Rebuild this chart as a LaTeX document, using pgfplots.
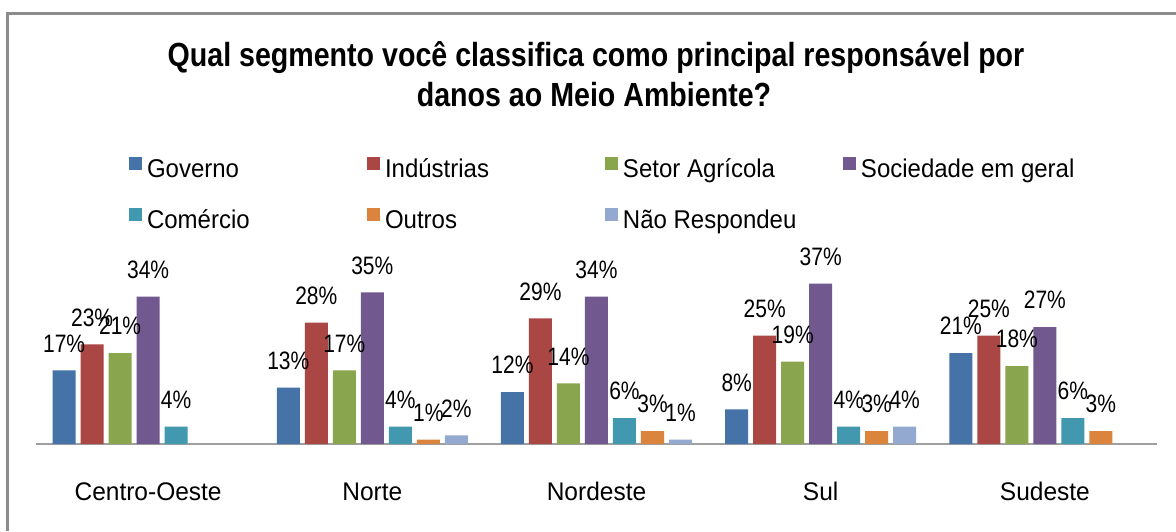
\documentclass[border=0pt]{standalone}
\usepackage{pgfplots}
\pgfplotsset{compat=1.18}
\usepackage{fontspec}
\setmainfont{Liberation Sans}
\usepackage{graphicx}
\definecolor{cGov}{HTML}{4572A7}
\definecolor{cInd}{HTML}{AA4643}
\definecolor{cAgr}{HTML}{89A54E}
\definecolor{cSoc}{HTML}{71588F}
\definecolor{cCom}{HTML}{4198AF}
\definecolor{cOut}{HTML}{DB843D}
\definecolor{cNR}{HTML}{93A9CF}
\definecolor{frame}{HTML}{8C8C8C}
\newcommand\lbl[1]{\scalebox{1}[1.2]{\fontsize{21}{22}\selectfont #1}}
\newcommand\lgd[1]{\scalebox{1}[1.07]{\fontsize{24}{26}\selectfont #1}}
\newcommand\cat[1]{\scalebox{1}[1.04]{\fontsize{24.5}{26}\selectfont #1}}
\newcommand\ttl[1]{\scalebox{1}[1.17]{\fontsize{28.6}{30}\selectfont\bfseries #1}}
\begin{document}
\begin{tikzpicture}
\path[use as bounding box] (0pt,0pt) rectangle (1176pt,531pt);
\fill[white] (0pt,0pt) rectangle (1176pt,531pt);
\draw[frame, line width=3pt] (7.5pt,0pt) -- (7.5pt,517.5pt) -- (1176pt,517.5pt);
\node[anchor=base] at (596pt,464pt) {\ttl{Qual segmento você classifica como principal responsável por}};
\node[anchor=base] at (594pt,424pt) {\ttl{danos ao Meio Ambiente?}};
\begin{axis}[
  at={(36pt,87pt)}, anchor=south west,
  scale only axis, width=1121pt, height=182pt,
  xmin=-0.5, xmax=4.5, ymin=0, ymax=42,
  clip=false,
  ybar=5pt, bar width=23pt,
  axis y line=none,
  axis x line=bottom,
  x axis line style={-, draw=gray!75, line width=1.5pt},
  xtick={0,1,2,3,4},
  xticklabels={\cat{Centro-Oeste},\cat{Norte},\cat{Nordeste},\cat{Sul},\cat{Sudeste}},
  major tick length=0pt,
  xticklabel style={anchor=base, yshift=-56pt, inner sep=0pt},
  typeset ticklabels with strut=false,
  /pgf/number format/assume math mode=true,
  nodes near coords={\lbl{\pgfmathprintnumber{\pgfplotspointmeta}\%}},
  nodes near coords style={anchor=south, yshift=18pt, inner sep=0pt, text depth=0pt},
  legend image code/.code={\fill[#1] (0pt,0.5pt) rectangle (13pt,13.5pt);},
  legend columns=4,
  legend cell align=left,
  legend style={at={(0.08296,1.5769)}, anchor=north west, draw=none, fill=none,
    inner sep=0pt, outer sep=0pt, row sep=24pt,
    nodes={inner sep=0pt, outer sep=0pt, text height=20pt, text depth=6pt},
    /tikz/every odd column/.append style={column sep=5pt},
    /tikz/every even column/.append style={column sep=0pt}},
  every axis plot/.append style={draw=none},
]
\addplot[fill=cGov] coordinates {(0,17) (1,13) (2,12) (3,8) (4,21)};
\addplot[fill=cInd] coordinates {(0,23) (1,28) (2,29) (3,25) (4,25)};
\addplot[fill=cAgr] coordinates {(0,21) (1,17) (2,14) (3,19) (4,18)};
\addplot[fill=cSoc] coordinates {(0,34) (1,35) (2,34) (3,37) (4,27)};
\addplot[fill=cCom] coordinates {(0,4) (1,4) (2,6) (3,4) (4,6)};
\addplot[fill=cOut] coordinates {(1,1) (2,3) (3,3) (4,3)};
\addplot[fill=cNR] coordinates {(1,2) (2,1) (3,4)};
\addlegendentry{\makebox[220pt][l]{\lgd{Governo}}}
\addlegendentry{\makebox[220pt][l]{\lgd{Indústrias}}}
\addlegendentry{\makebox[220pt][l]{\lgd{Setor Agrícola}}}
\addlegendentry{\makebox[220pt][l]{\lgd{Sociedade em geral}}}
\addlegendentry{\makebox[220pt][l]{\lgd{Comércio}}}
\addlegendentry{\makebox[220pt][l]{\lgd{Outros}}}
\addlegendentry{\makebox[220pt][l]{\lgd{Não Respondeu}}}
\end{axis}
\end{tikzpicture}
\end{document}
